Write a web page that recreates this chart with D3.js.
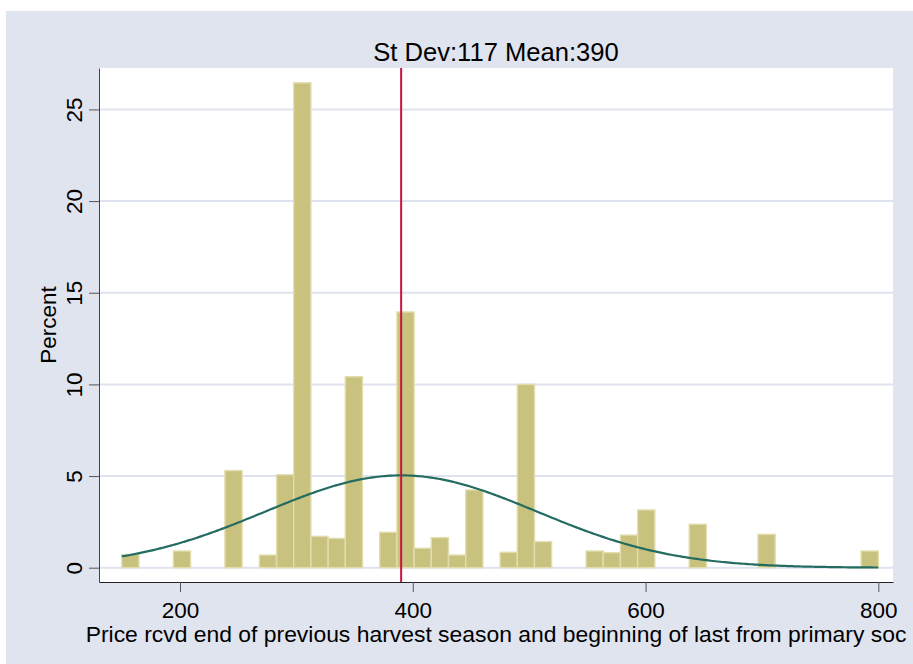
<!DOCTYPE html>
<html>
<head>
<meta charset="utf-8">
<script src="https://cdn.jsdelivr.net/npm/d3@7"></script>
<style>
  body { margin: 0; background: #fff; }
  text { font-family: "Liberation Sans", Arial, sans-serif; fill: #000; }
</style>
</head>
<body>
<div id="chart"></div>
<script>
// histogram bins (lower edge, width 650/44) and percent heights
const binLow = [150.0, 194.3, 238.6, 268.2, 283.0, 297.7, 312.5, 327.3, 342.0, 371.6, 386.4, 401.1,
  415.9, 430.7, 445.5, 475.0, 489.8, 504.5, 548.9, 563.6, 578.4, 593.2, 637.5, 696.6, 785.2];
const binPct = [0.72, 0.91, 5.3, 0.69, 5.07, 26.45, 1.71, 1.6, 10.42, 1.93, 13.95, 1.06,
  1.64, 0.69, 4.24, 0.84, 10.0, 1.42, 0.91, 0.82, 1.78, 3.15, 2.37, 1.82, 0.91];
const binWidth = 14.77;
const xTicks = [200, 400, 600, 800];
const yTicks = [0, 5, 10, 15, 20, 25];
const meanVal = 390, sdVal = 117;
const curveRange = [150, 800];
const titleText = "St Dev:117 Mean:390";
const xTitle = "Price rcvd end of previous harvest season and beginning of last from primary soc";
const yTitle = "Percent";

const W = 913, H = 664;
const plot = { left: 99, right: 893, top: 68, bottom: 582 };

const svg = d3.select("#chart").append("svg")
  .attr("width", W).attr("height", H);

// graph region
svg.append("rect")
  .attr("x", 6).attr("y", 11).attr("width", W - 6).attr("height", H - 11)
  .attr("fill", "#e0e4ef");

svg.append("rect")
  .attr("x", plot.left).attr("y", plot.top)
  .attr("width", plot.right - plot.left).attr("height", plot.bottom - plot.top)
  .attr("fill", "#fff");

const x = d3.scaleLinear().domain([130.4, 812.6]).range([plot.left, plot.right]);
const y = d3.scaleLinear().domain([-0.78, 27.26]).range([plot.bottom, plot.top]);

// gridlines
svg.append("g").selectAll("line").data(yTicks).join("line")
  .attr("x1", plot.left).attr("x2", plot.right)
  .attr("y1", d => y(d)).attr("y2", d => y(d))
  .attr("stroke", "#dfe3ef").attr("stroke-width", 2);

// bars
svg.append("g").selectAll("rect").data(binLow).join("rect")
  .attr("x", d => x(d))
  .attr("y", (d, i) => y(binPct[i]))
  .attr("width", x(binLow[0] + binWidth) - x(binLow[0]))
  .attr("height", (d, i) => y(0) - y(binPct[i]))
  .attr("fill", "#c9c27e")
  .attr("stroke", "#e2ddae")
  .attr("stroke-width", 1.4);

// normal density overlay, scaled to percent per bin
const dens = v => 100 * binWidth * Math.exp(-0.5 * ((v - meanVal) / sdVal) ** 2) / (sdVal * Math.sqrt(2 * Math.PI));
const curveX = d3.range(curveRange[0], curveRange[1] + 1, 2);
svg.append("path")
  .datum(curveX)
  .attr("fill", "none")
  .attr("stroke", "#246c61")
  .attr("stroke-width", 2.2)
  .attr("d", d3.line().x(d => x(d)).y(d => y(dens(d))));

// mean line
svg.append("line")
  .attr("x1", x(meanVal)).attr("x2", x(meanVal))
  .attr("y1", plot.top).attr("y2", plot.bottom)
  .attr("stroke", "#c8143f").attr("stroke-width", 2);

// x axis
const xAxis = svg.append("g")
  .attr("transform", `translate(0,${plot.bottom})`)
  .call(d3.axisBottom(x).tickValues(xTicks).tickSize(10).tickSizeOuter(0));
xAxis.select(".domain").attr("stroke", "#222");
xAxis.selectAll(".tick line").attr("stroke", "#555");
xAxis.selectAll(".tick text")
  .attr("y", 36).attr("dy", 0)
  .style("font-size", "22.5px").style("font-family", "'Liberation Sans', Arial, sans-serif")
  .attr("fill", "#000");

// y axis
const yAxis = svg.append("g")
  .attr("transform", `translate(${plot.left},0)`)
  .call(d3.axisLeft(y).tickValues(yTicks).tickSize(10).tickSizeOuter(0));
yAxis.select(".domain").attr("stroke", "#444");
yAxis.selectAll(".tick line").attr("stroke", "#555");
yAxis.selectAll(".tick text")
  .attr("x", 0).attr("y", 0).attr("dy", 0)
  .attr("transform", "translate(-17,0) rotate(-90)")
  .attr("text-anchor", "middle")
  .style("font-size", "22.5px").style("font-family", "'Liberation Sans', Arial, sans-serif")
  .attr("fill", "#000");

// titles
svg.append("text")
  .attr("x", (plot.left + plot.right) / 2).attr("y", 61)
  .attr("text-anchor", "middle").style("font-size", "25.6px")
  .text(titleText);

svg.append("text")
  .attr("x", (plot.left + plot.right) / 2).attr("y", 642)
  .attr("text-anchor", "middle").style("font-size", "22.9px")
  .text(xTitle);

svg.append("text")
  .attr("transform", `translate(56,${(plot.top + plot.bottom) / 2}) rotate(-90)`)
  .attr("text-anchor", "middle").style("font-size", "22.5px")
  .text(yTitle);
</script>
</body>
</html>
